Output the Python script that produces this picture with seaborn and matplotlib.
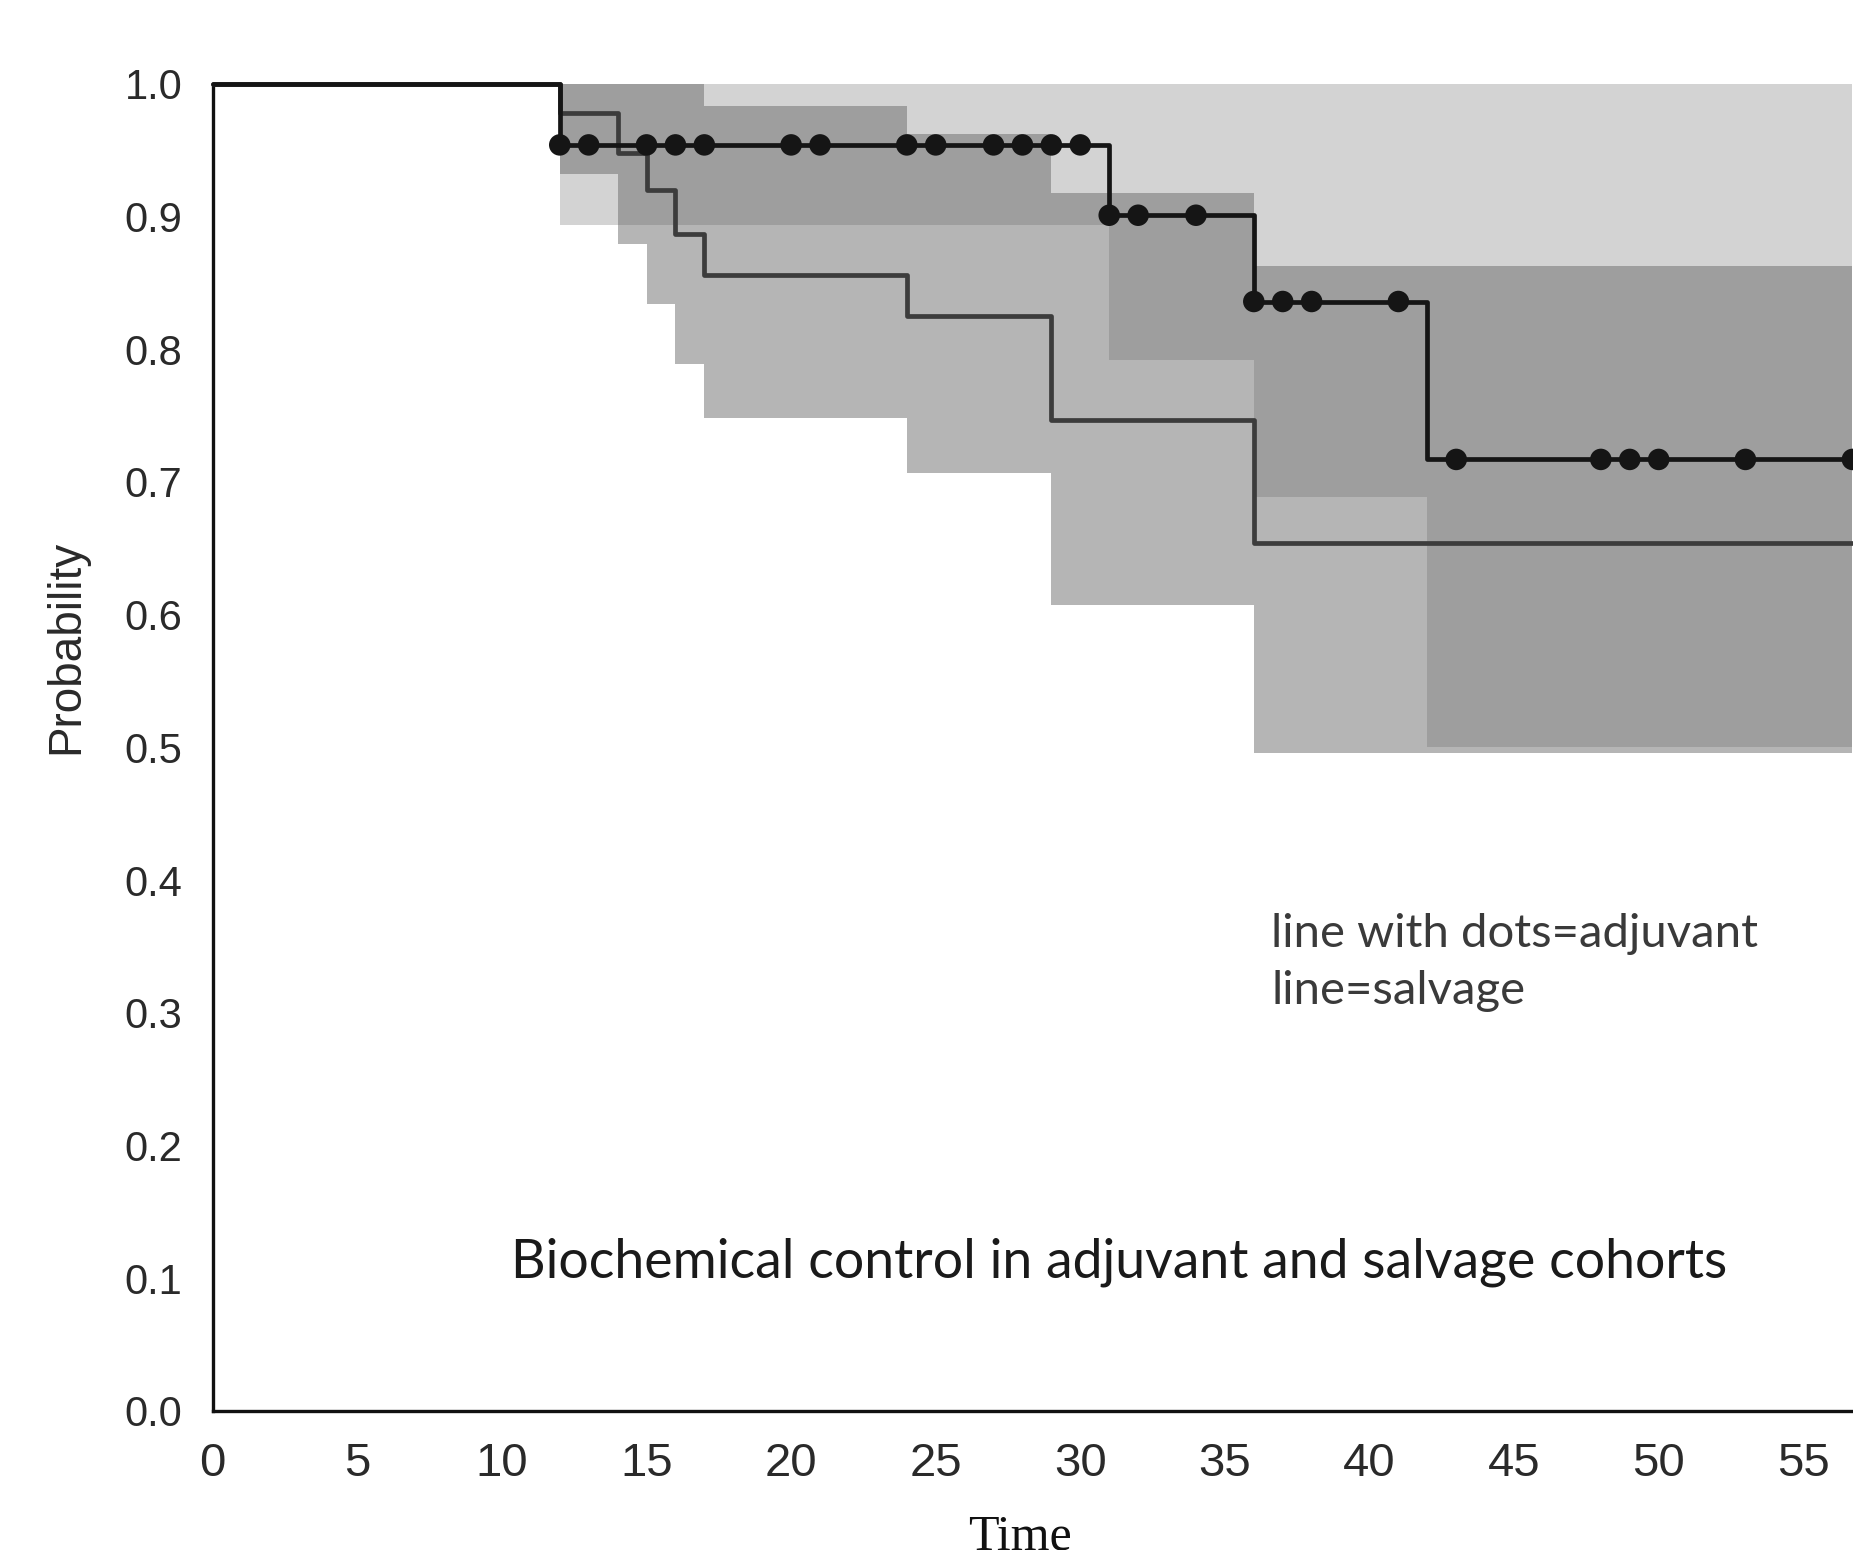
import numpy as np
import matplotlib.pyplot as plt
import seaborn as sns

# adjuvant cohort (line with dots)
adj_time = [0, 12, 31, 36, 42, 56.7]
adj_surv = [1.0, 0.954, 0.901, 0.836, 0.717, 0.717]
adj_censor = [12, 13, 15, 16, 17, 20, 21, 24, 25, 27, 28, 29, 30,
              31, 32, 34, 36, 37, 38, 41, 43, 48, 49, 50, 53, 56.7]
adj_ci_time = [12, 31, 36, 42, 56.7]
adj_ci_lo = [0.894, 0.792, 0.689, 0.500, 0.500]
adj_ci_hi = [1.0, 1.0, 1.0, 1.0, 1.0]

# salvage cohort (plain line)
sal_time = [0, 12, 14, 15, 16, 17, 24, 29, 36, 56.7]
sal_surv = [1.0, 0.978, 0.948, 0.920, 0.887, 0.856, 0.825, 0.747, 0.654, 0.654]
sal_ci_time = [12, 14, 15, 16, 17, 24, 29, 36, 56.7]
sal_ci_lo = [0.932, 0.879, 0.834, 0.789, 0.748, 0.707, 0.607, 0.496, 0.496]
sal_ci_hi = [1.0, 1.0, 1.0, 1.0, 0.983, 0.962, 0.918, 0.863, 0.863]

x_ticks = list(range(0, 60, 5))
y_ticks = [round(0.1 * i, 1) for i in range(11)]

sns.set_theme(style='white')
plt.rcParams['font.family'] = ['Liberation Sans', 'DejaVu Sans']

fig = plt.figure(figsize=(18.53, 15.5), dpi=100)
ax = fig.add_axes([0.1148, 0.0897, 0.8852, 0.8562])

# confidence bands: salvage drawn translucent over adjuvant so overlap darkens
ax.fill_between(adj_ci_time, adj_ci_lo, adj_ci_hi, step='post',
                color='#d3d3d3', linewidth=0, zorder=1)
ax.fill_between(sal_ci_time, sal_ci_lo, sal_ci_hi, step='post',
                color='#666666', alpha=0.477, linewidth=0, zorder=2)

sns.lineplot(x=sal_time, y=sal_surv, drawstyle='steps-post', color='#3c3c3c',
             linewidth=3.4, ax=ax, zorder=3, clip_on=False)
sns.lineplot(x=adj_time, y=adj_surv, drawstyle='steps-post', color='#151515',
             linewidth=3.4, ax=ax, zorder=4, clip_on=False)

idx = np.searchsorted(adj_time, adj_censor, side='right') - 1
adj_censor_y = np.array(adj_surv)[idx]
sns.scatterplot(x=adj_censor, y=adj_censor_y, s=240, color='#151515',
                edgecolor='none', ax=ax, zorder=5, clip_on=False)

ax.set_xlim(0, 56.72)
ax.set_ylim(0, 1.0)
ax.set_xticks(x_ticks)
ax.set_yticks(y_ticks)
ax.set_yticklabels([f'{v:.1f}' for v in y_ticks], fontsize=30, color='#2a2a2a')
ax.set_xticklabels([str(v) for v in x_ticks], fontsize=34, color='#2a2a2a')
ax.tick_params(axis='y', length=15, width=2, pad=7, color='#111111')
ax.tick_params(axis='x', length=12, width=2, pad=10, color='#111111')

for side in ['top', 'right']:
    ax.spines[side].set_visible(False)
for side in ['left', 'bottom']:
    ax.spines[side].set_color('#111111')
    ax.spines[side].set_linewidth(2.4)
ax.set_xlabel('')
ax.set_ylabel('')

fig.text(0.0356, 0.5826, 'Probability', rotation=90, ha='center', va='center',
         fontsize=33, color='#2a2a2a')
fig.text(0.5505, 0.0, 'Time', ha='center', va='baseline', fontsize=36,
         family=['Liberation Serif', 'DejaVu Serif'], color='#111111')

fig.text(0.686, 0.411, 'line with dots=adjuvant\nline=salvage', ha='left',
         va='top', fontsize=34, family=['Lato', 'DejaVu Sans'],
         color='#3a3a3a', linespacing=1.45)
fig.text(0.6037, 0.1858, 'Biochemical control in adjuvant and salvage cohorts',
         ha='center', va='center', fontsize=38.6, family=['Lato', 'DejaVu Sans'],
         color='#1a1a1a')

fig.savefig('out.png', dpi=100)
